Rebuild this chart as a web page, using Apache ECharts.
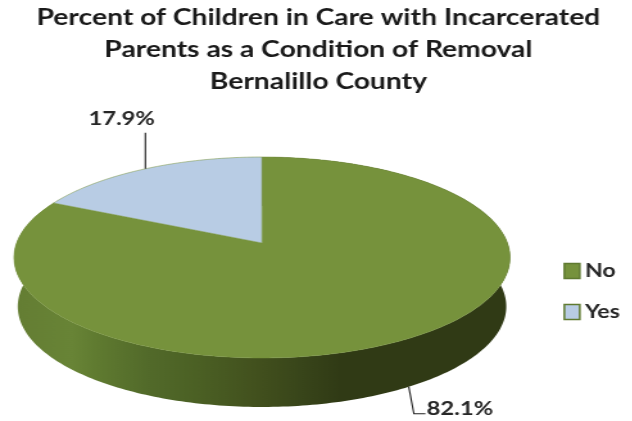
<!DOCTYPE html>
<html><head><meta charset="utf-8">
<style>html,body{margin:0;padding:0;background:#fff;overflow:hidden;width:632px;height:421px}
#c{width:492.6px;height:421px;transform-origin:0 0;transform:scaleX(1.283);filter:blur(0.45px)}</style>
<script src="https://cdn.jsdelivr.net/npm/echarts@6/dist/echarts.min.js"></script>
</head><body><div id="c"></div>
<script>
const categories = ['No', 'Yes'];
const percents = [82.1, 17.9];
const titleLines = ['Percent of Children in Care with Incarcerated', 'Parents as a Condition of Removal', 'Bernalillo County'];
const topColors = ['#76923c', '#b8cce4'];

// the reference picture is stretched sideways; the page is drawn narrow and widened by CSS
const stretch = 1.283;
const view = {cx: 262 / stretch, cy: 243, a: 245.4 / stretch, b: 98.4, k: 0.144, depth: 49, baseScale: 0.985};
function project(deg, lower) {
  const t = deg * Math.PI / 180, u = Math.sin(t), v = Math.cos(t), d = 1 + view.k * v;
  const s = lower ? view.baseScale : 1;
  return [view.cx + s * view.a * u / d, view.cy - view.b * v / d + (lower ? view.depth : 0)];
}
function arc(a0, a1, lower) {
  const pts = [], n = Math.max(2, Math.ceil(Math.abs(a1 - a0)));
  for (let i = 0; i <= n; i++) pts.push(project(a0 + (a1 - a0) * i / n, lower));
  return pts;
}
const total = percents.reduce((s, x) => s + x, 0);
const wallGradient = new echarts.graphic.LinearGradient(0, 0, 1, 0, [
  {offset: 0, color: '#647d33'}, {offset: 0.117, color: '#688436'}, {offset: 0.17, color: '#5f7a30'},
  {offset: 0.27, color: '#526a2a'}, {offset: 0.37, color: '#4b6024'}, {offset: 0.5, color: '#414f1d'},
  {offset: 0.58, color: '#38451a'}, {offset: 0.66, color: '#303a15'}, {offset: 1, color: '#303a15'}
]);
const labelFont = 'bold 18.5px Lato, sans-serif';

function renderSlice(params, api) {
  const i = params.seriesIndex, val = api.value(0);
  const start = percents.slice(0, i).reduce((s, x) => s + x, 0) / total * 360;
  const end = start + val / total * 360, mid = (start + end) / 2;
  const topPts = [[view.cx, view.cy]].concat(arc(start, end, false));
  const children = [];
  if (i === 0) {
    children.push({type: 'polygon', shape: {points: arc(start, end, false).concat(arc(end, start, true))},
      style: {fill: wallGradient, stroke: null}});
  }
  children.push({type: 'polygon', shape: {points: topPts},
    style: {fill: topColors[i], stroke: '#76923c', lineWidth: 0.5}});
  const text = val.toFixed(1) + '%';
  if (i === 0) {
    const p = project(mid, true);
    children.push({type: 'polyline', z2: 5, shape: {points: [p, [p[0] + 4, p[1] + 27], [p[0] + 13, p[1] + 27]]},
      style: {fill: null, stroke: '#222', lineWidth: 1.1}});
    children.push({type: 'text', z2: 5, style: {text, x: p[0] + 14, y: p[1] + 22, font: labelFont,
      fill: '#262626', align: 'left', verticalAlign: 'middle'}});
  } else {
    const p = project(mid, false);
    children.push({type: 'polyline', z2: 5, shape: {points: [p, [p[0], p[1] - 36]]},
      style: {fill: null, stroke: '#222', lineWidth: 1.1}});
    children.push({type: 'text', z2: 5, style: {text, x: p[0] - 18.5, y: p[1] - 50, font: labelFont,
      fill: '#262626', align: 'center', verticalAlign: 'middle'}});
  }
  return {type: 'group', children};
}

const chart = echarts.init(document.getElementById('c'), null, {renderer: 'canvas'});
chart.setOption({
  animation: false,
  backgroundColor: '#fff',
  title: {text: titleLines.join('\n'), left: 312 / stretch, top: -3.5, textAlign: 'center',
    textStyle: {fontFamily: 'Lato', fontWeight: 'bold', fontSize: 22, lineHeight: 32, color: '#1a1a1a'}},
  legend: {orient: 'vertical', left: 557 / stretch, top: 257, itemWidth: 12, itemHeight: 15, itemGap: 23,
    icon: 'rect', selectedMode: false,
    textStyle: {fontFamily: 'Lato', fontWeight: 'bold', fontSize: 18, color: '#262626', padding: [0, 0, 0, -1]},
    data: categories.map((name, i) => ({name, itemStyle: {color: topColors[i], borderColor: '#5f7a30', borderWidth: 1.5}}))},
  tooltip: {show: false},
  series: categories.map((name, i) => ({
    type: 'custom', name, coordinateSystem: 'none', clip: false, z: i === 0 ? 2 : 3,
    itemStyle: {color: topColors[i]},
    renderItem: renderSlice, data: [[percents[i]]]
  }))
});
</script></body></html>
